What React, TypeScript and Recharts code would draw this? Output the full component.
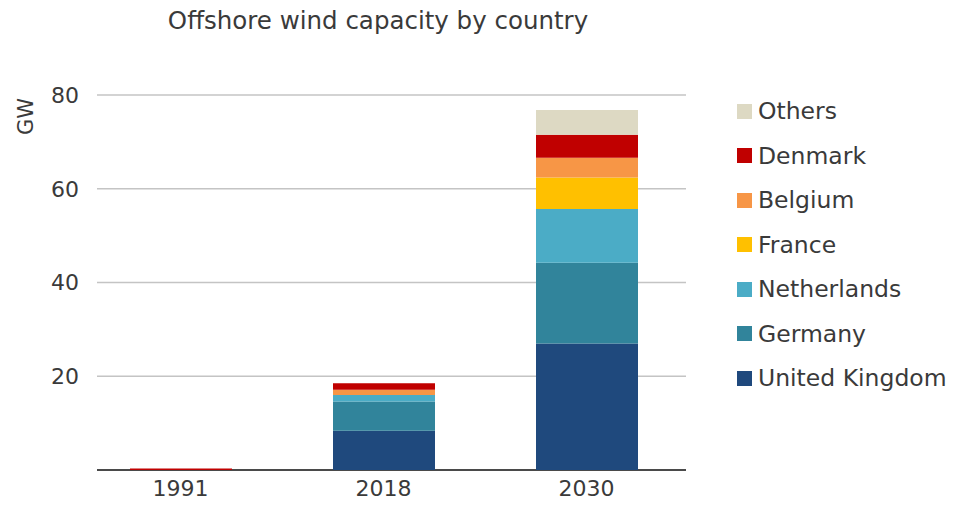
import { BarChart, Bar, XAxis, YAxis, CartesianGrid } from "recharts";

const years = ["1991", "2018", "2030"];
const unitedKingdom = [0, 8.4, 27.0];
const germany = [0, 6.2, 17.2];
const netherlands = [0, 1.4, 11.5];
const france = [0, 0, 6.7];
const belgium = [0, 1.1, 4.2];
const denmark = [0.3, 1.4, 4.9];
const others = [0, 0, 5.3];
const yTicks = [20, 40, 60, 80];

const series = [
  { key: "uk", name: "United Kingdom", color: "#1f497d", values: unitedKingdom },
  { key: "de", name: "Germany", color: "#31849b", values: germany },
  { key: "nl", name: "Netherlands", color: "#4bacc6", values: netherlands },
  { key: "fr", name: "France", color: "#ffc000", values: france },
  { key: "be", name: "Belgium", color: "#f79646", values: belgium },
  { key: "dk", name: "Denmark", color: "#c00000", values: denmark },
  { key: "ot", name: "Others", color: "#ddd9c3", values: others },
];

const data = years.map((year, i) => {
  const row: Record<string, string | number> = { year };
  series.forEach((s) => {
    row[s.key] = s.values[i];
  });
  return row;
});

const font = "'DejaVu Sans', sans-serif";
const textColor = "#3a3a3a";

// legend drawn as plain html so it doesn't eat into the plot area
function LegendBox() {
  return (
    <div
      style={{ position: "absolute", left: 729, top: 81, fontFamily: font, color: textColor }}
    >
      {[...series].reverse().map((s) => (
        <div
          key={s.key}
          style={{ display: "flex", alignItems: "center", height: 44.5, fontSize: 23.5 }}
        >
          <span
            style={{ width: 15, height: 15, background: s.color, marginRight: 6, display: "inline-block" }}
          />
          <span>{s.name}</span>
        </div>
      ))}
    </div>
  );
}

export default function App() {
  return (
    <div style={{ position: "relative", width: 954, height: 497 }}>
      <div
        style={{
          position: "absolute",
          left: 0,
          width: 740,
          top: -2,
          textAlign: "center",
          fontFamily: font,
          fontSize: 24.5,
          color: textColor,
        }}
      >
        Offshore wind capacity by country
      </div>
      <div
        style={{
          position: "absolute",
          left: 3,
          top: 100,
          width: 30,
          height: 24,
          transform: "rotate(-90deg)",
          fontFamily: font,
          fontSize: 21,
          color: textColor,
          textAlign: "center",
          lineHeight: "24px",
        }}
      >
        GW
      </div>
      <BarChart
        width={954}
        height={497}
        data={data}
        margin={{ top: 87, right: 274, bottom: 0, left: 0 }}
      >
        <CartesianGrid x={89} width={589} vertical={false} stroke="#c4c4c4" strokeWidth={1.5} />
        <CartesianGrid
          x={89}
          width={589}
          vertical={false}
          horizontalValues={[0]}
          stroke="#4a4a4a"
          strokeWidth={2}
        />
        <XAxis
          dataKey="year"
          axisLine={false}
          tickLine={false}
          tickSize={0}
          tickMargin={10}
          height={35}
          tick={{ fontSize: 22, fontFamily: font, fill: textColor }}
        />
        <YAxis
          domain={[0, 80]}
          ticks={yTicks}
          width={71}
          axisLine={false}
          tickLine={false}
          tickSize={0}
          tickMargin={0}
          tick={{ fontSize: 22, fontFamily: font, fill: textColor }}
        />
        {series.map((s) => (
          <Bar
            key={s.key}
            dataKey={s.key}
            name={s.name}
            stackId="a"
            fill={s.color}
            barSize={102}
            isAnimationActive={false}
          />
        ))}
      </BarChart>
      <LegendBox />
    </div>
  );
}
